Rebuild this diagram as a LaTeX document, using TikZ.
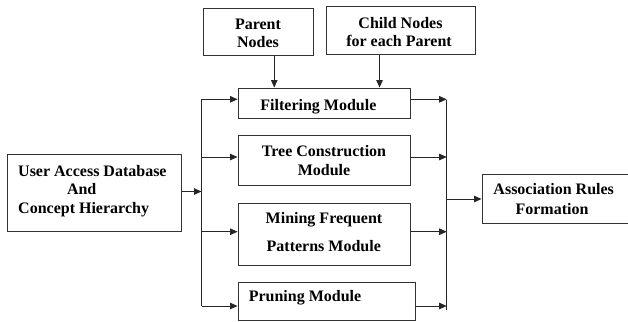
\documentclass[tikz,border=0pt]{standalone}
\usepackage{fontspec}
\setmainfont{Liberation Serif}
\usetikzlibrary{arrows.meta}
\begin{document}
\begin{tikzpicture}[x=1pt,y=-1pt,
  box/.style={draw=black!80, line width=0.9pt, rectangle, inner sep=0pt},
  lbl/.style={inner sep=0pt, anchor=base, font=\fontsize{16}{19}\selectfont\bfseries},
  lbll/.style={lbl, anchor=base west},
  conn/.style={draw=black!85, line width=0.9pt},
  arr/.style={conn, -{Triangle[length=7.5pt,width=6.5pt]}}]
\useasboundingbox (0,0) rectangle (628,321);
% boxes
\node[box, minimum width=110.5pt, minimum height=46.7pt] (parent) at (258.25,31.65) {};
\node[box, minimum width=148.3pt, minimum height=48.3pt] (child) at (400.85,30.15) {};
\node[box, minimum width=172pt, minimum height=30pt] (filter) at (324,103) {};
\node[box, minimum width=172pt, minimum height=50pt] (tree) at (324,160) {};
\node[box, minimum width=172pt, minimum height=61.7pt] (mining) at (324,234.15) {};
\node[box, minimum width=177pt, minimum height=38pt] (prune) at (326.5,301) {};
\node[box, minimum width=174.5pt, minimum height=77.5pt] (user) at (94.25,192.75) {};
\node[box, minimum width=152pt, minimum height=49pt] (assoc) at (558,198.5) {};
% labels
\node[lbl] (t1) at (258,30) {Parent};
\node[lbl] (t2) at (258,47.5) {Nodes};
\node[lbl] (t3) at (400.5,29) {Child Nodes};
\node[lbl] (t4) at (399,47) {for each Parent};
\node[lbl] (t5) at (318.4,110) {Filtering Module};
\node[lbl] (t6) at (324,156.5) {Tree Construction};
\node[lbl] (t7) at (324,175) {Module};
\node[lbl] (t8) at (324,223.3) {Mining Frequent};
\node[lbl] (t9) at (323.8,251) {Patterns Module};
\node[lbl] (t10) at (305,301.7) {Pruning Module};
\node[lbll] (t11) at (18,176) {User Access Database};
\node[lbl] (t12) at (81.7,194.5) {And};
\node[lbll] (t13) at (18,213) {Concept Hierarchy};
\node[lbl] (t14) at (553.7,194.6) {Association Rules};
\node[lbl] (t15) at (552,214) {Formation};
% bus coordinates
\coordinate (b1) at (201.5,99.3);
\coordinate (b2) at (201.5,157);
\coordinate (b3) at (201.5,231.7);
\coordinate (b4) at (201.5,306);
\coordinate (r0) at (446.7,100);
\coordinate (r1) at (446.7,99.3);
\coordinate (r2) at (446.7,157);
\coordinate (r3) at (446.7,231.7);
\coordinate (r4) at (446.7,306);
\coordinate (r5) at (446.7,310);
\coordinate (ra) at (446.7,199);
% connectors
\draw[arr] ([xshift=16pt]parent.south) -- ([xshift=16pt]parent.south |- filter.north);
\draw[arr] ([xshift=-21.3pt]child.south) -- ([xshift=-21.3pt]child.south |- filter.north);
\draw[conn] (b1) -- (b4);
\draw[arr] ([yshift=1.25pt]user.east) -- ([yshift=1.25pt]user.east -| b1);
\draw[arr] (b1) -- (b1 -| filter.west);
\draw[arr] (b2) -- (b2 -| tree.west);
\draw[arr] (b3) -- (b3 -| mining.west);
\draw[arr] (b4) -- (b4 -| prune.west);
\draw[conn] (r0) -- (r5);
\draw[arr] (r1 -| filter.east) -- (r1);
\draw[arr] (r2 -| tree.east) -- (r2);
\draw[arr] (r3 -| mining.east) -- (r3);
\draw[arr] (r4 -| prune.east) -- (r4);
\draw[arr] (ra) -- (ra -| assoc.west);
\end{tikzpicture}
\end{document}
